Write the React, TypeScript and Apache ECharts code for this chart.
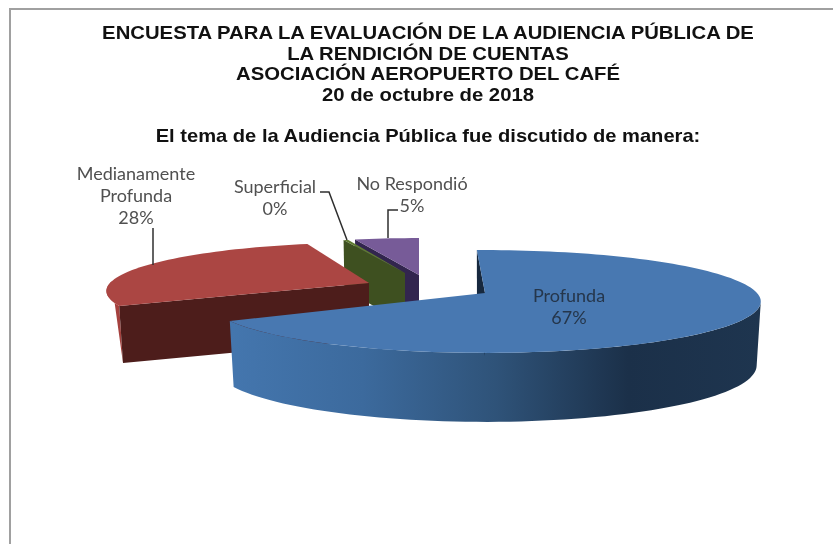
import React, { useEffect, useRef } from "react";
import * as echarts from "echarts";

const categories = ["Profunda", "Medianamente\nProfunda", "Superficial", "No Respondió"];
const values = [67, 28, 0.4, 4.6];

const titleLines = [
  "ENCUESTA PARA LA EVALUACIÓN DE LA AUDIENCIA PÚBLICA DE",
  "LA RENDICIÓN DE CUENTAS",
  "ASOCIACIÓN AEROPUERTO DEL CAFÉ",
  "20 de octubre de 2018",
];
const subtitle = "El tema de la Audiencia Pública fue discutido de manera:";

const titleY = [33, 54, 74, 95];
const subtitleY = 136;

// Projection and style of each slice (a perspective view with exploded slices)
const sliceLayout = [
  { ax: 485, ay: 293, rx: 272, ry: 50, k: 0.165, rot: -2, h: 63, hv: 6, z: 40, top: "#4878b1", wallEnd: "#17293f", rimEnd: 100,
    rim: ["#4476ae", "#3c6a9d", "#2f5379", "#1b3049", "#1e354f"], label: [569, 306], color: "#25364b" },
  { ax: 369, ay: 283, rx: 259, ry: 47, k: 0.165, rot: 2, h: 57, hv: 0, z: 30, top: "#ab4643", wallEnd: "#4d1d1b", rimEnd: 272,
    rim: ["#a5413e", "#a5413e"], label: [136, 195], color: "#505050" },
  { ax: 405, ay: 273, rx: 230, ry: 40, k: 0.165, rot: 0, h: 50, hv: 0, z: 20, top: "#5f7a32", wallEnd: "#3e5020", rimEnd: 0,
    rim: [], label: [275, 197], color: "#505050" },
  { ax: 419, ay: 275, rx: 260, ry: 43, k: 0.165, rot: 0, h: 50, hv: 0, z: 10, top: "#775b98", wallEnd: "#32254e", rimEnd: 0,
    rim: [], label: [412, 194], color: "#505050" },
];

const leaders = [
  [[153, 228], [153, 265]],
  [[320, 192], [329, 192], [347, 240]],
  [[398, 210], [388, 210], [388, 238]],
];

const FONT = "Lato, 'Noto Sans', sans-serif";
const TITLE_FONT = "'Liberation Sans', Arial, sans-serif";

function renderSlice(params: any, api: any) {
  const i = params.dataIndex;
  const total = values.reduce((a, b) => a + b, 0);
  const before = values.slice(0, i).reduce((a, b) => a + b, 0);
  const L = sliceLayout[i];
  const t0 = (before / total) * 360 + L.rot;
  const t1 = ((before + api.value(0)) / total) * 360 + L.rot;

  const proj = (deg: number, radial = 1, drop = false) => {
    const a = (deg * Math.PI) / 180;
    const u = Math.sin(a) * radial;
    const v = -Math.cos(a) * radial;
    const s = 1 / (1 - L.k * v);
    const shrink = drop ? 0.985 : 1;
    const dy = drop ? L.h + L.hv * v : 0;
    return [L.ax + L.rx * u * s * shrink, L.ay + L.ry * v * s + dy];
  };
  const arc = (a: number, b: number, drop = false) => {
    const pts: number[][] = [];
    const n = Math.max(2, Math.ceil(Math.abs(b - a) / 2));
    for (let j = 0; j <= n; j++) pts.push(proj(a + ((b - a) * j) / n, 1, drop));
    return pts;
  };
  const children: any[] = [];

  // outer rim wall
  if (L.rimEnd) {
    const pts =
      i === 0
        ? [...arc(L.rimEnd, t1), ...arc(t1, L.rimEnd, true)]
        : [...arc(t0, L.rimEnd), proj(t0, 1, true)];
    const stops = L.rim.map((c: string, j: number) => ({ offset: j / (L.rim.length - 1), color: c }));
    children.push({
      type: "polygon",
      z2: L.z + 1,
      shape: { points: pts },
      style: { fill: new echarts.graphic.LinearGradient(0, 0, 1, 0, stops) },
    });
  }
  // radial wall
  children.push({
    type: "polygon",
    z2: L.z + 2,
    shape: { points: [proj(t0, 0), proj(t0), proj(t0, 1, true), proj(t0, 0, true)] },
    style: { fill: L.wallEnd },
  });
  // top surface
  children.push({
    type: "polygon",
    z2: L.z + 3,
    shape: { points: [proj(t0, 0), ...arc(t0, t1)] },
    style: { fill: L.top },
  });
  // data label
  children.push({
    type: "text",
    z2: 100,
    style: {
      x: L.label[0],
      y: L.label[1],
      text: `${categories[i]}\n${Math.round(values[i])}%`,
      align: "center",
      verticalAlign: "middle",
      fontFamily: FONT,
      fontSize: 18,
      lineHeight: 22,
      fill: L.color,
    },
  });
  return { type: "group", children };
}

const titleText = (text: string, y: number, scaleX: number) => ({
  type: "text",
  x: 428,
  y,
  scaleX,
  style: {
    text,
    x: 0,
    y: 0,
    align: "center",
    verticalAlign: "middle",
    fontFamily: TITLE_FONT,
    fontWeight: "bold",
    fontSize: 17.5,
    fill: "#111",
  },
});

export default function App() {
  const ref = useRef<HTMLDivElement>(null);
  useEffect(() => {
    const chart = echarts.init(ref.current!, undefined, { renderer: "svg" });
    chart.setOption({
      animation: false,
      backgroundColor: "#ffffff",
      graphic: [
        { type: "line", shape: { x1: 9, y1: 9, x2: 833, y2: 9 }, style: { stroke: "#a0a0a0", lineWidth: 2 } },
        { type: "line", shape: { x1: 10, y1: 8, x2: 10, y2: 544 }, style: { stroke: "#a0a0a0", lineWidth: 2 } },
        ...titleLines.map((t, i) => titleText(t, titleY[i], 1.16)),
        titleText(subtitle, subtitleY, 1.15),
        ...leaders.map((p) => ({
          type: "polyline",
          z: 10,
          shape: { points: p },
          style: { stroke: "#2f2f2f", lineWidth: 1.5, fill: "none" },
        })),
      ],
      series: [
        {
          type: "custom",
          coordinateSystem: "none",
          silent: true,
          data: values.map((v) => [v]),
          renderItem: renderSlice,
        },
      ],
    });
    return () => chart.dispose();
  }, []);
  return (
    <div
      ref={ref}
      style={{ position: "absolute", left: 0, top: 0, width: 833, height: 544, filter: "blur(0.7px)" }}
    />
  );
}
